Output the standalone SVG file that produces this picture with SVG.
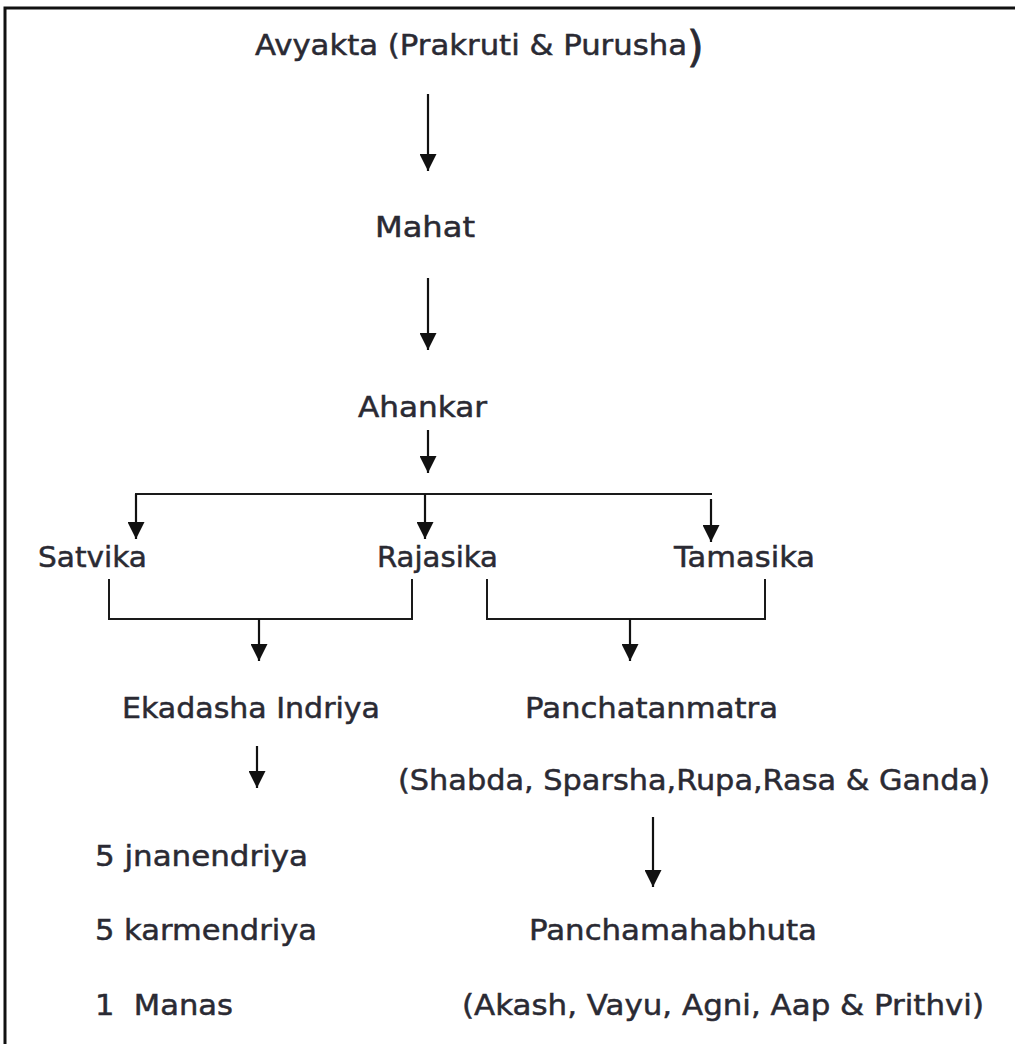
<svg xmlns="http://www.w3.org/2000/svg" width="1015" height="1044" viewBox="0 0 1015 1044">
<style>
.t{font-family:"DejaVu Sans","Verdana",sans-serif;font-size:29px;fill:#2a2a33;stroke:#2a2a33;stroke-width:0.5px;}
.c{fill:none;stroke:#1a1a1a;stroke-width:2;}
.a{fill:none;stroke:#111;stroke-width:2.2;marker-end:url(#ah);}
</style>
<defs>
<marker id="ah" markerUnits="userSpaceOnUse" viewBox="0 0 17 17" refX="17" refY="8.5" markerWidth="17" markerHeight="17" orient="auto">
<path d="M0,0 L17,8.5 L0,17 z" fill="#111"/>
</marker>
</defs>
<rect width="1015" height="1044" fill="#fff"/>
<path d="M5,1044 V8 H1015" fill="none" stroke="#111" stroke-width="3"/>
<g id="avyakta"><text class="t" x="255" y="55" textLength="432" lengthAdjust="spacingAndGlyphs">Avyakta (Prakruti &amp; Purusha</text><text class="t" x="687" y="62" style="font-size:43px;stroke-width:0.8px">)</text></g>
<g id="mahat"><text class="t" x="375" y="237" textLength="100" lengthAdjust="spacingAndGlyphs">Mahat</text></g>
<g id="ahankar"><text class="t" x="358" y="417" textLength="129" lengthAdjust="spacingAndGlyphs">Ahankar</text></g>
<g id="satvika"><text class="t" x="38" y="567" textLength="109" lengthAdjust="spacingAndGlyphs">Satvika</text></g>
<g id="rajasika"><text class="t" x="377" y="567" textLength="121" lengthAdjust="spacingAndGlyphs">Rajasika</text></g>
<g id="tamasika"><text class="t" x="674" y="567" textLength="141" lengthAdjust="spacingAndGlyphs">Tamasika</text></g>
<g id="ekadasha"><text class="t" x="122" y="718" textLength="258" lengthAdjust="spacingAndGlyphs">Ekadasha Indriya</text></g>
<g id="panchatanmatra"><text class="t" x="525" y="718" textLength="253" lengthAdjust="spacingAndGlyphs">Panchatanmatra</text><text class="t" x="398" y="790" textLength="592" lengthAdjust="spacingAndGlyphs">(Shabda, Sparsha,Rupa,Rasa &amp; Ganda)</text></g>
<g id="indriyas"><text class="t" x="95" y="866" textLength="213" lengthAdjust="spacingAndGlyphs">5 jnanendriya</text><text class="t" x="95" y="940" textLength="222" lengthAdjust="spacingAndGlyphs">5 karmendriya</text><text class="t" x="95" y="1015" textLength="138" lengthAdjust="spacingAndGlyphs" xml:space="preserve">1  Manas</text></g>
<g id="panchamahabhuta"><text class="t" x="529" y="940" textLength="288" lengthAdjust="spacingAndGlyphs">Panchamahabhuta</text><text class="t" x="462" y="1015" textLength="522" lengthAdjust="spacingAndGlyphs">(Akash, Vayu, Agni, Aap &amp; Prithvi)</text></g>
<g id="connectors">
<line class="a" x1="428" y1="94" x2="428" y2="171"/>
<line class="a" x1="428" y1="278" x2="428" y2="350"/>
<line class="a" x1="428" y1="430" x2="428" y2="473"/>
<path class="c" d="M135,494 H712"/>
<line class="a" x1="136" y1="494" x2="136" y2="539"/>
<line class="a" x1="425" y1="494" x2="425" y2="539"/>
<line class="a" x1="711" y1="499" x2="711" y2="542"/>
<path class="c" d="M109,579 V619 H412 V579"/>
<line class="a" x1="259" y1="619" x2="259" y2="661"/>
<path class="c" d="M487,579 V619 H765 V579"/>
<line class="a" x1="630" y1="619" x2="630" y2="661"/>
<line class="a" x1="257" y1="746" x2="257" y2="788"/>
<line class="a" x1="653" y1="817" x2="653" y2="887"/>
</g>
</svg>
